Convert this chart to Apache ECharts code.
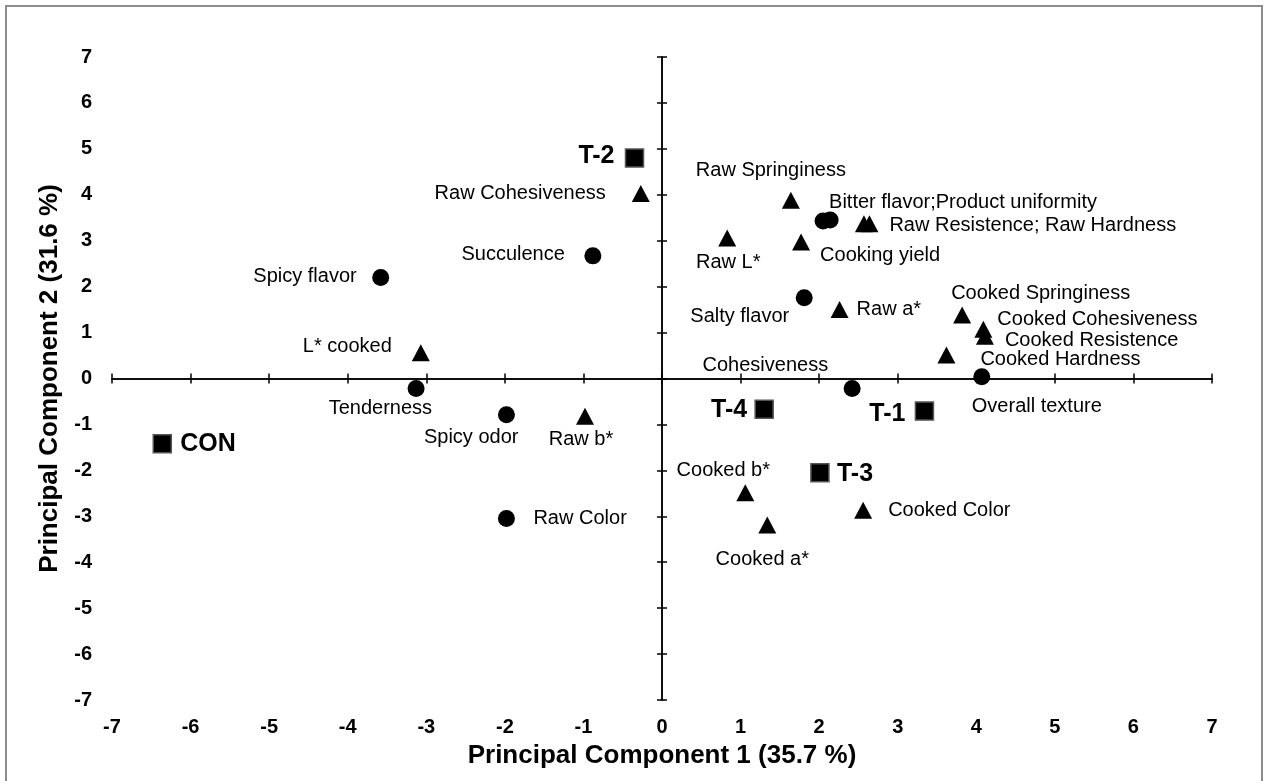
<!DOCTYPE html>
<html>
<head>
<meta charset="utf-8">
<script src="https://cdn.jsdelivr.net/npm/echarts@6/dist/echarts.min.js"></script>
<style>
html,body{margin:0;padding:0;background:#fff;}
#chart{width:1267px;height:781px;}
</style>
</head>
<body>
<div id="chart"></div>
<script>
// ---- Data ----
const axisTicks = [-7,-6,-5,-4,-3,-2,-1,0,1,2,3,4,5,6,7];
const xTitle = 'Principal Component 1 (35.7 %)';
const yTitle = 'Principal Component 2 (31.6 %)';

// Treatments (squares)
const treatNames = ['CON', 'T-1', 'T-2', 'T-3', 'T-4'];
const treatPC1   = [-6.36, 3.34, -0.35, 2.01, 1.30];
const treatPC2   = [-1.42, -0.71, 4.80, -2.05, -0.67];

// Sensory attributes (circles)
const sensNames = ['Spicy flavor', 'Succulence', 'Tenderness', 'Spicy odor', 'Raw Color',
                   'Bitter flavor', 'Product uniformity', 'Salty flavor', 'Cohesiveness', 'Overall texture'];
const sensPC1   = [-3.58, -0.88, -3.13, -1.98, -1.98, 2.05, 2.14, 1.81, 2.42, 4.07];
const sensPC2   = [2.20, 2.67, -0.22, -0.79, -3.05, 3.43, 3.45, 1.76, -0.22, 0.04];

// Instrumental attributes (triangles)
const instNames = ['Raw Cohesiveness', 'L* cooked', 'Raw b*', 'Raw Springiness', 'Raw Resistence',
                   'Raw Hardness', 'Raw L*', 'Cooking yield', 'Raw a*', 'Cooked Springiness',
                   'Cooked Cohesiveness', 'Cooked Resistence', 'Cooked Hardness', 'Cooked b*',
                   'Cooked a*', 'Cooked Color'];
const instPC1   = [-0.27, -3.07, -0.98, 1.64, 2.57, 2.64, 0.83, 1.77, 2.26, 3.82, 4.09, 4.11, 3.62, 1.06, 1.34, 2.56];
const instPC2   = [4.03, 0.56, -0.82, 3.88, 3.37, 3.37, 3.06, 2.97, 1.50, 1.38, 1.07, 0.92, 0.51, -2.49, -3.19, -2.87];

// ---- Label layout (style only): [align, dx, dy, optional text override]; null = no label ----
const labelLayout = {
  'CON': ['left', 18, 0],
  'T-1': ['right', -19, 3],
  'T-2': ['right', -20, -2],
  'T-3': ['left', 17, 1],
  'T-4': ['right', -17, 1],
  'Spicy flavor': ['right', -24, -1],
  'Succulence': ['right', -28, -1],
  'Tenderness': ['right', 16, 20],
  'Spicy odor': ['right', 12, 23],
  'Raw Color': ['left', 27, 0],
  'Bitter flavor': ['left', 6, -18, 'Bitter flavor;Product uniformity'],
  'Product uniformity': null,
  'Salty flavor': ['right', -15, 19],
  'Cohesiveness': ['right', -24, -23],
  'Overall texture': ['left', -10, 30],
  'Raw Cohesiveness': ['right', -35, 0],
  'L* cooked': ['right', -29, -6],
  'Raw b*': ['center', -4, 23],
  'Raw Springiness': ['center', -20, -30],
  'Raw Resistence': null,
  'Raw Hardness': ['left', 20, 2, 'Raw Resistence; Raw Hardness'],
  'Raw L*': ['center', 1, 25],
  'Cooking yield': ['left', 19, 13],
  'Raw a*': ['left', 17, 0],
  'Cooked Springiness': ['left', -11, -22],
  'Cooked Cohesiveness': ['left', 14, -10],
  'Cooked Resistence': ['left', 20, 4],
  'Cooked Hardness': ['left', 34, 4],
  'Cooked b*': ['center', -22, -22],
  'Cooked a*': ['center', -5, 34],
  'Cooked Color': ['left', 25, 0]
};

const FONT = '"Liberation Sans", Arial, Helvetica, sans-serif';

function buildData(names, xs, ys, bold) {
  return names.map(function (n, i) {
    const lay = labelLayout[n];
    const item = { name: n, value: [xs[i], ys[i]] };
    if (!lay) {
      item.label = { show: false };
    } else {
      item.label = {
        show: true,
        position: 'inside',
        align: lay[0],
        verticalAlign: 'middle',
        offset: [lay[1], lay[2]],
        formatter: lay[3] ? lay[3] : n,
        color: '#000',
        fontFamily: FONT,
        fontSize: bold ? 25 : 20,
        fontWeight: bold ? 'bold' : 'normal'
      };
    }
    return item;
  });
}

const chart = echarts.init(document.getElementById('chart'), null, { renderer: 'canvas' });

const baseAxis = {
  type: 'value', min: -7, max: 7, interval: 1,
  splitLine: { show: false }
};
const labelStyle = { color: '#000', fontFamily: FONT, fontSize: 20, fontWeight: 'bold' };
const lineStyle = { color: '#000', width: 1.5 };

const option = {
  backgroundColor: '#fff',
  animation: false,
  graphic: [{
    type: 'rect', silent: true, z: -10,
    shape: { x: 6, y: 6, width: 1256, height: 790 },
    style: { fill: 'none', stroke: '#8c8c8c', lineWidth: 2 }
  }],
  grid: { left: 112, right: 55, top: 57, bottom: 81, containLabel: false },
  xAxis: [
    Object.assign({}, baseAxis, {
      position: 'bottom',
      axisLine: { show: false, onZero: false },
      axisTick: { show: false },
      axisLabel: Object.assign({ margin: 17 }, labelStyle),
      data: axisTicks,
      name: xTitle, nameLocation: 'middle', nameGap: 56,
      nameTextStyle: { color: '#000', fontFamily: FONT, fontSize: 26, fontWeight: 'bold', verticalAlign: 'middle' }
    }),
    Object.assign({}, baseAxis, {
      position: 'bottom',
      axisLine: { show: true, onZero: true, lineStyle: lineStyle },
      axisTick: { show: true, inside: false, length: 5, lineStyle: lineStyle },
      axisLabel: { show: false }
    }),
    Object.assign({}, baseAxis, {
      position: 'bottom',
      axisLine: { show: true, onZero: true, lineStyle: lineStyle },
      axisTick: { show: true, inside: true, length: 5, lineStyle: lineStyle },
      axisLabel: { show: false }
    })
  ],
  yAxis: [
    Object.assign({}, baseAxis, {
      position: 'left',
      axisLine: { show: false, onZero: false },
      axisTick: { show: false },
      axisLabel: Object.assign({ margin: 20 }, labelStyle),
      name: yTitle, nameLocation: 'middle', nameGap: 60, nameRotate: 90,
      nameTextStyle: { color: '#000', fontFamily: FONT, fontSize: 26, fontWeight: 'bold', verticalAlign: 'middle' }
    }),
    Object.assign({}, baseAxis, {
      position: 'left',
      axisLine: { show: true, onZero: true, lineStyle: lineStyle },
      axisTick: { show: true, inside: false, length: 5, lineStyle: lineStyle },
      axisLabel: { show: false }
    }),
    Object.assign({}, baseAxis, {
      position: 'left',
      axisLine: { show: true, onZero: true, lineStyle: lineStyle },
      axisTick: { show: true, inside: true, length: 5, lineStyle: lineStyle },
      axisLabel: { show: false }
    })
  ],
  series: [
    {
      name: 'Treatments', type: 'scatter', xAxisIndex: 0, yAxisIndex: 0,
      symbol: 'rect', symbolSize: 18,
      itemStyle: { color: '#000', borderColor: '#555', borderWidth: 1.5, opacity: 1 },
      data: buildData(treatNames, treatPC1, treatPC2, true), z: 5
    },
    {
      name: 'Sensory', type: 'scatter', xAxisIndex: 0, yAxisIndex: 0,
      symbol: 'circle', symbolSize: 17,
      itemStyle: { color: '#000', opacity: 1 },
      data: buildData(sensNames, sensPC1, sensPC2, false), z: 5
    },
    {
      name: 'Instrumental', type: 'scatter', xAxisIndex: 0, yAxisIndex: 0,
      symbol: 'triangle', symbolSize: [18, 17],
      itemStyle: { color: '#000', opacity: 1 },
      data: buildData(instNames, instPC1, instPC2, false), z: 5
    }
  ]
};
chart.setOption(option);
</script>
</body>
</html>
